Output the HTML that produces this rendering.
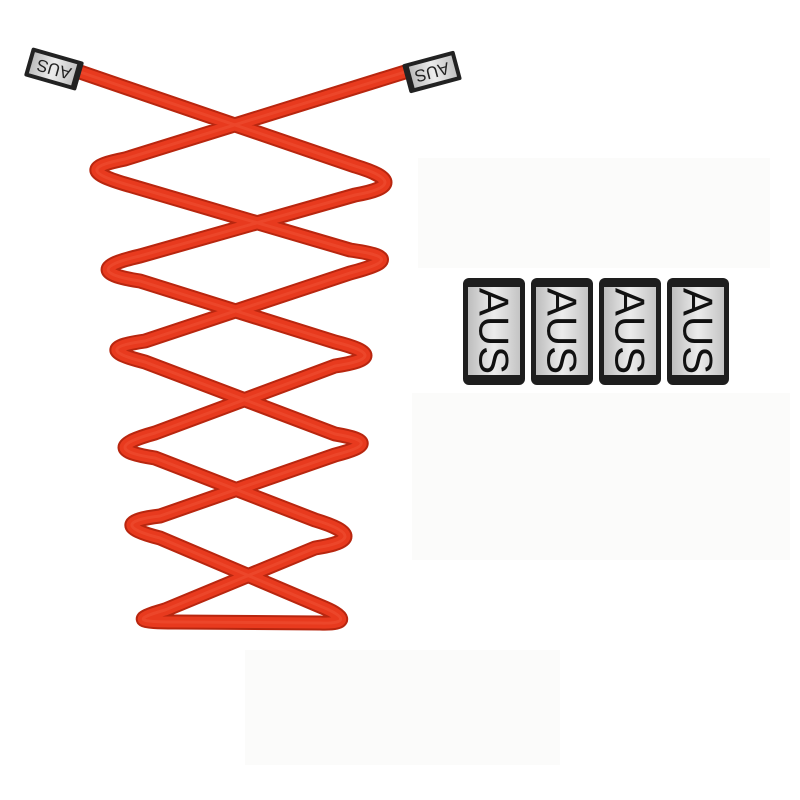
<!DOCTYPE html>
<html><head><style>
body{margin:0;background:#fff;}
svg{display:block}
</style></head><body>
<svg width="800" height="800" viewBox="0 0 800 800" xmlns="http://www.w3.org/2000/svg">
<defs>
<linearGradient id="sil" x1="0" y1="0" x2="1" y2="0">
<stop offset="0" stop-color="#bdbdbd"/><stop offset="0.5" stop-color="#ececec"/><stop offset="1" stop-color="#c4c4c4"/>
</linearGradient>
<path id="lace" d="M80,72 L355,166 C395,178 395,188 355,195 L140,256 C95,266 100,275 140,281 L335,342 C375,352 375,360 335,366 L155,433 C115,444 115,452 155,458 L315,520 C355,532 355,542 315,548 L165,610 C130,620 140,622 175,622 L320,623 C350,624 345,616 320,606 L160,538 C120,528 125,520 160,516 L335,455 C370,446 370,440 335,434 L145,362 C105,352 110,346 145,341 L350,273 C392,262 392,256 350,250 L125,184 C85,172 90,166 125,159 L405,72"/>
</defs>
<rect width="800" height="800" fill="#fff"/>
<rect x="418" y="158" width="352" height="110" fill="#fbfbfa"/>
<rect x="412" y="393" width="378" height="167" fill="#fbfbfa"/>
<rect x="245" y="650" width="315" height="115" fill="#fbfbfa"/>

<g fill="none" stroke-linecap="round" stroke-linejoin="round">
<use href="#lace" stroke="#b8260f" stroke-width="15"/>
<use href="#lace" stroke="#e83a1e" stroke-width="11"/>
<use href="#lace" stroke="#f25a3c" stroke-width="3" opacity="0.4"/>
</g>

<g transform="translate(54,69) rotate(16)">
<rect x="-27" y="-15" width="54" height="30" rx="2" fill="#222"/>
<rect x="-23" y="-11" width="44" height="22" fill="url(#sil)"/>
<text x="0" y="0" transform="rotate(180)" text-anchor="middle" dominant-baseline="central" font-family="Liberation Sans, sans-serif" font-size="17" fill="#222">AUS</text>
</g>
<g transform="translate(432,72) rotate(-15)">
<rect x="-27" y="-15" width="54" height="30" rx="2" fill="#222"/>
<rect x="-21" y="-11" width="44" height="22" fill="url(#sil)"/>
<text x="0" y="0" transform="rotate(180)" text-anchor="middle" dominant-baseline="central" font-family="Liberation Sans, sans-serif" font-size="17" fill="#222">AUS</text>
</g>

<g font-family="Liberation Sans, sans-serif" font-size="42" fill="#111">
<g transform="translate(463,278)">
<rect x="0" y="0" width="62" height="107" rx="6" fill="#1e1e1e"/>
<rect x="5" y="9" width="52" height="88" fill="url(#sil)"/>
<text transform="translate(31,53) rotate(90)" text-anchor="middle" dominant-baseline="central">AUS</text>
</g>
<g transform="translate(531,278)">
<rect x="0" y="0" width="62" height="107" rx="6" fill="#1e1e1e"/>
<rect x="5" y="9" width="52" height="88" fill="url(#sil)"/>
<text transform="translate(31,53) rotate(90)" text-anchor="middle" dominant-baseline="central">AUS</text>
</g>
<g transform="translate(599,278)">
<rect x="0" y="0" width="62" height="107" rx="6" fill="#1e1e1e"/>
<rect x="5" y="9" width="52" height="88" fill="url(#sil)"/>
<text transform="translate(31,53) rotate(90)" text-anchor="middle" dominant-baseline="central">AUS</text>
</g>
<g transform="translate(667,278)">
<rect x="0" y="0" width="62" height="107" rx="6" fill="#1e1e1e"/>
<rect x="5" y="9" width="52" height="88" fill="url(#sil)"/>
<text transform="translate(31,53) rotate(90)" text-anchor="middle" dominant-baseline="central">AUS</text>
</g>
</g>
</svg>
</body></html>
